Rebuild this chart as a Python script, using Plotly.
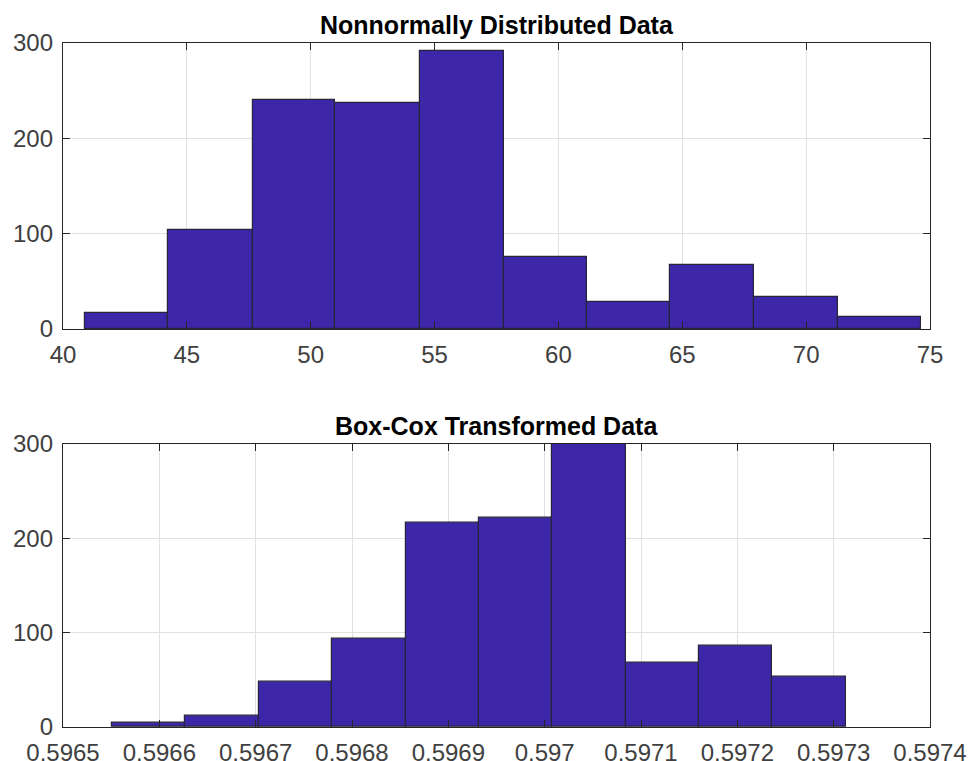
import plotly.graph_objects as go

# Top histogram: bin edges and counts
top_edges = [40.9, 44.25, 47.65, 51.0, 54.4, 57.8, 61.15, 64.5, 67.9, 71.3, 74.65]
top_counts = [17, 104, 240, 237, 292, 75, 28, 67, 34, 13]
top_ticks = [40, 45, 50, 55, 60, 65, 70, 75]

# Bottom histogram: bin edges and counts
bot_edges = [0.596551, 0.596627, 0.596703, 0.596779, 0.596856, 0.596932,
             0.597008, 0.597084, 0.597160, 0.597236, 0.597313]
bot_counts = [4, 12, 48, 93, 216, 222, 302, 68, 86, 53]
bot_ticks = [0.5965, 0.5966, 0.5967, 0.5968, 0.5969, 0.597, 0.5971, 0.5972, 0.5973, 0.5974]
bot_ticktext = ["0.5965", "0.5966", "0.5967", "0.5968", "0.5969", "0.597",
                "0.5971", "0.5972", "0.5973", "0.5974"]

y_ticks = [0, 100, 200, 300]

FILL = "#3E26A8"
EDGE = "#26263A"
AX = "#262626"
GRID = "#E0E0E0"
FONT = "Liberation Sans, Arial, sans-serif"


def centers(e):
    return [(e[i] + e[i + 1]) / 2 for i in range(len(e) - 1)]


def widths(e):
    return [e[i + 1] - e[i] for i in range(len(e) - 1)]


fig = go.Figure()
fig.add_trace(go.Bar(x=centers(top_edges), y=top_counts, width=widths(top_edges),
                     marker=dict(color=FILL, line=dict(color=EDGE, width=1.2)),
                     xaxis="x", yaxis="y", showlegend=False))
fig.add_trace(go.Bar(x=centers(bot_edges), y=bot_counts, width=widths(bot_edges),
                     marker=dict(color=FILL, line=dict(color=EDGE, width=1.2)),
                     xaxis="x2", yaxis="y2", showlegend=False))

axis_common = dict(showline=True, linecolor=AX, linewidth=1.3, mirror="ticks",
                   ticks="inside", ticklen=7, tickcolor=AX, showgrid=True,
                   gridcolor=GRID, gridwidth=1, zeroline=False, automargin=False,
                   tickfont=dict(family=FONT, size=24, color="#404040"))
x_common = dict(axis_common, ticklabelstandoff=4, ticklabeloverflow="allow")
y_common = dict(axis_common, ticklabelstandoff=4)

fig.update_layout(
    width=969, height=761,
    margin=dict(l=63, r=39, t=43, b=34),
    plot_bgcolor="white", paper_bgcolor="white",
    bargap=0,
    xaxis=dict(domain=[0, 1], anchor="y", range=[40, 75], tickvals=top_ticks, **x_common),
    yaxis=dict(domain=[0.582, 1], anchor="x", range=[0, 300], tickvals=y_ticks, **y_common),
    xaxis2=dict(domain=[0, 1], anchor="y2", range=[0.5965, 0.5974], tickvals=bot_ticks,
                ticktext=bot_ticktext, **x_common),
    yaxis2=dict(domain=[0, 0.414], anchor="x2", range=[0, 300], tickvals=y_ticks, **y_common),
    annotations=[
        dict(text="<b>Nonnormally Distributed Data</b>", x=0.5, y=1, xref="paper", yref="paper",
             xanchor="center", yanchor="bottom", yshift=2, showarrow=False,
             font=dict(family=FONT, size=25, color="black")),
        dict(text="<b>Box-Cox Transformed Data</b>", x=0.5, y=0.414, xref="paper", yref="paper",
             xanchor="center", yanchor="bottom", yshift=2, showarrow=False,
             font=dict(family=FONT, size=25, color="black")),
    ],
)

# remove the default 8px page margin so the figure fills the window exactly
fig.write_html("out.html", config={"displayModeBar": False},
               post_script="document.body.style.margin='0';")
